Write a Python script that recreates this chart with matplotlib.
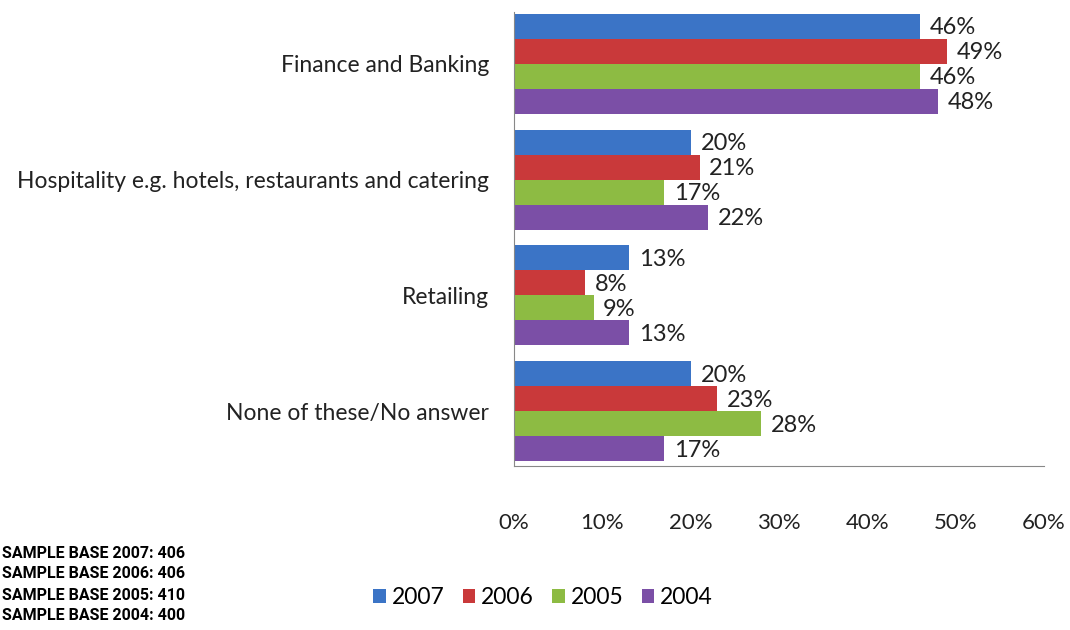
import numpy as np
import matplotlib
matplotlib.use("Agg")
import matplotlib.pyplot as plt
from matplotlib.ticker import FuncFormatter

plt.rcParams['font.family'] = ['Lato', 'DejaVu Sans']

categories = ["Finance and Banking",
              "Hospitality e.g. hotels, restaurants and catering",
              "Retailing",
              "None of these/No answer"]
years = ["2007", "2006", "2005", "2004"]
v2007 = [46, 20, 13, 20]
v2006 = [49, 21, 8, 23]
v2005 = [46, 17, 9, 28]
v2004 = [48, 22, 13, 17]
sample_base = [("2007", 406), ("2006", 406), ("2005", 410), ("2004", 400)]

series = [v2007, v2006, v2005, v2004]
colors = ["#3B74C6", "#C9393A", "#8DBB43", "#7B4FA6"]

fig = plt.figure(figsize=(10.7, 6.3), dpi=100)
ax = fig.add_axes([0.4804, 0.2603, 0.4953, 0.7207])

bar_h = 0.216
y = np.arange(len(categories))
for i, (vals, col, yr) in enumerate(zip(series, colors, years)):
    pos = y - 1.5 * bar_h + i * bar_h
    ax.barh(pos, vals, height=bar_h, color=col, label=yr, zorder=2)
    for p, v in zip(pos, vals):
        ax.annotate(f"{v}%", (v, p), xytext=(7, -1), textcoords="offset points",
                    va="center", ha="left", fontsize=17, color="#222222")

ax.set_xlim(0, 60)
ax.set_ylim(3.474, -0.449)
ax.set_xticks(np.arange(0, 61, 10))
ax.xaxis.set_major_formatter(FuncFormatter(lambda v, _: f"{v:.0f}%"))
ax.set_yticks(y)
ax.set_yticklabels(categories)
ax.tick_params(axis="x", length=0, pad=34, labelsize=16, colors="#222222")
ax.tick_params(axis="y", length=0, pad=18, labelsize=16.5, colors="#222222")
for s in ["top", "right"]:
    ax.spines[s].set_visible(False)
ax.spines["left"].set_color("#888888")
ax.spines["bottom"].set_color("#888888")

ax.legend(loc="center", bbox_to_anchor=(543 / 1070, 1 - 598 / 630),
          bbox_transform=fig.transFigure, ncol=4, frameon=False,
          fontsize=16.5, handlelength=0.55, handleheight=0.55,
          handletextpad=0.25, columnspacing=0.8)

for k, (yr, n) in enumerate(sample_base):
    fig.text(0.002, 1 - (553 + k * 21) / 630, f"SAMPLE BASE {yr}: {n}",
             fontsize=11.5, fontweight="bold", va="center", ha="left",
             family=['Roboto', 'DejaVu Sans'])

fig.savefig("out.png", dpi=100)
